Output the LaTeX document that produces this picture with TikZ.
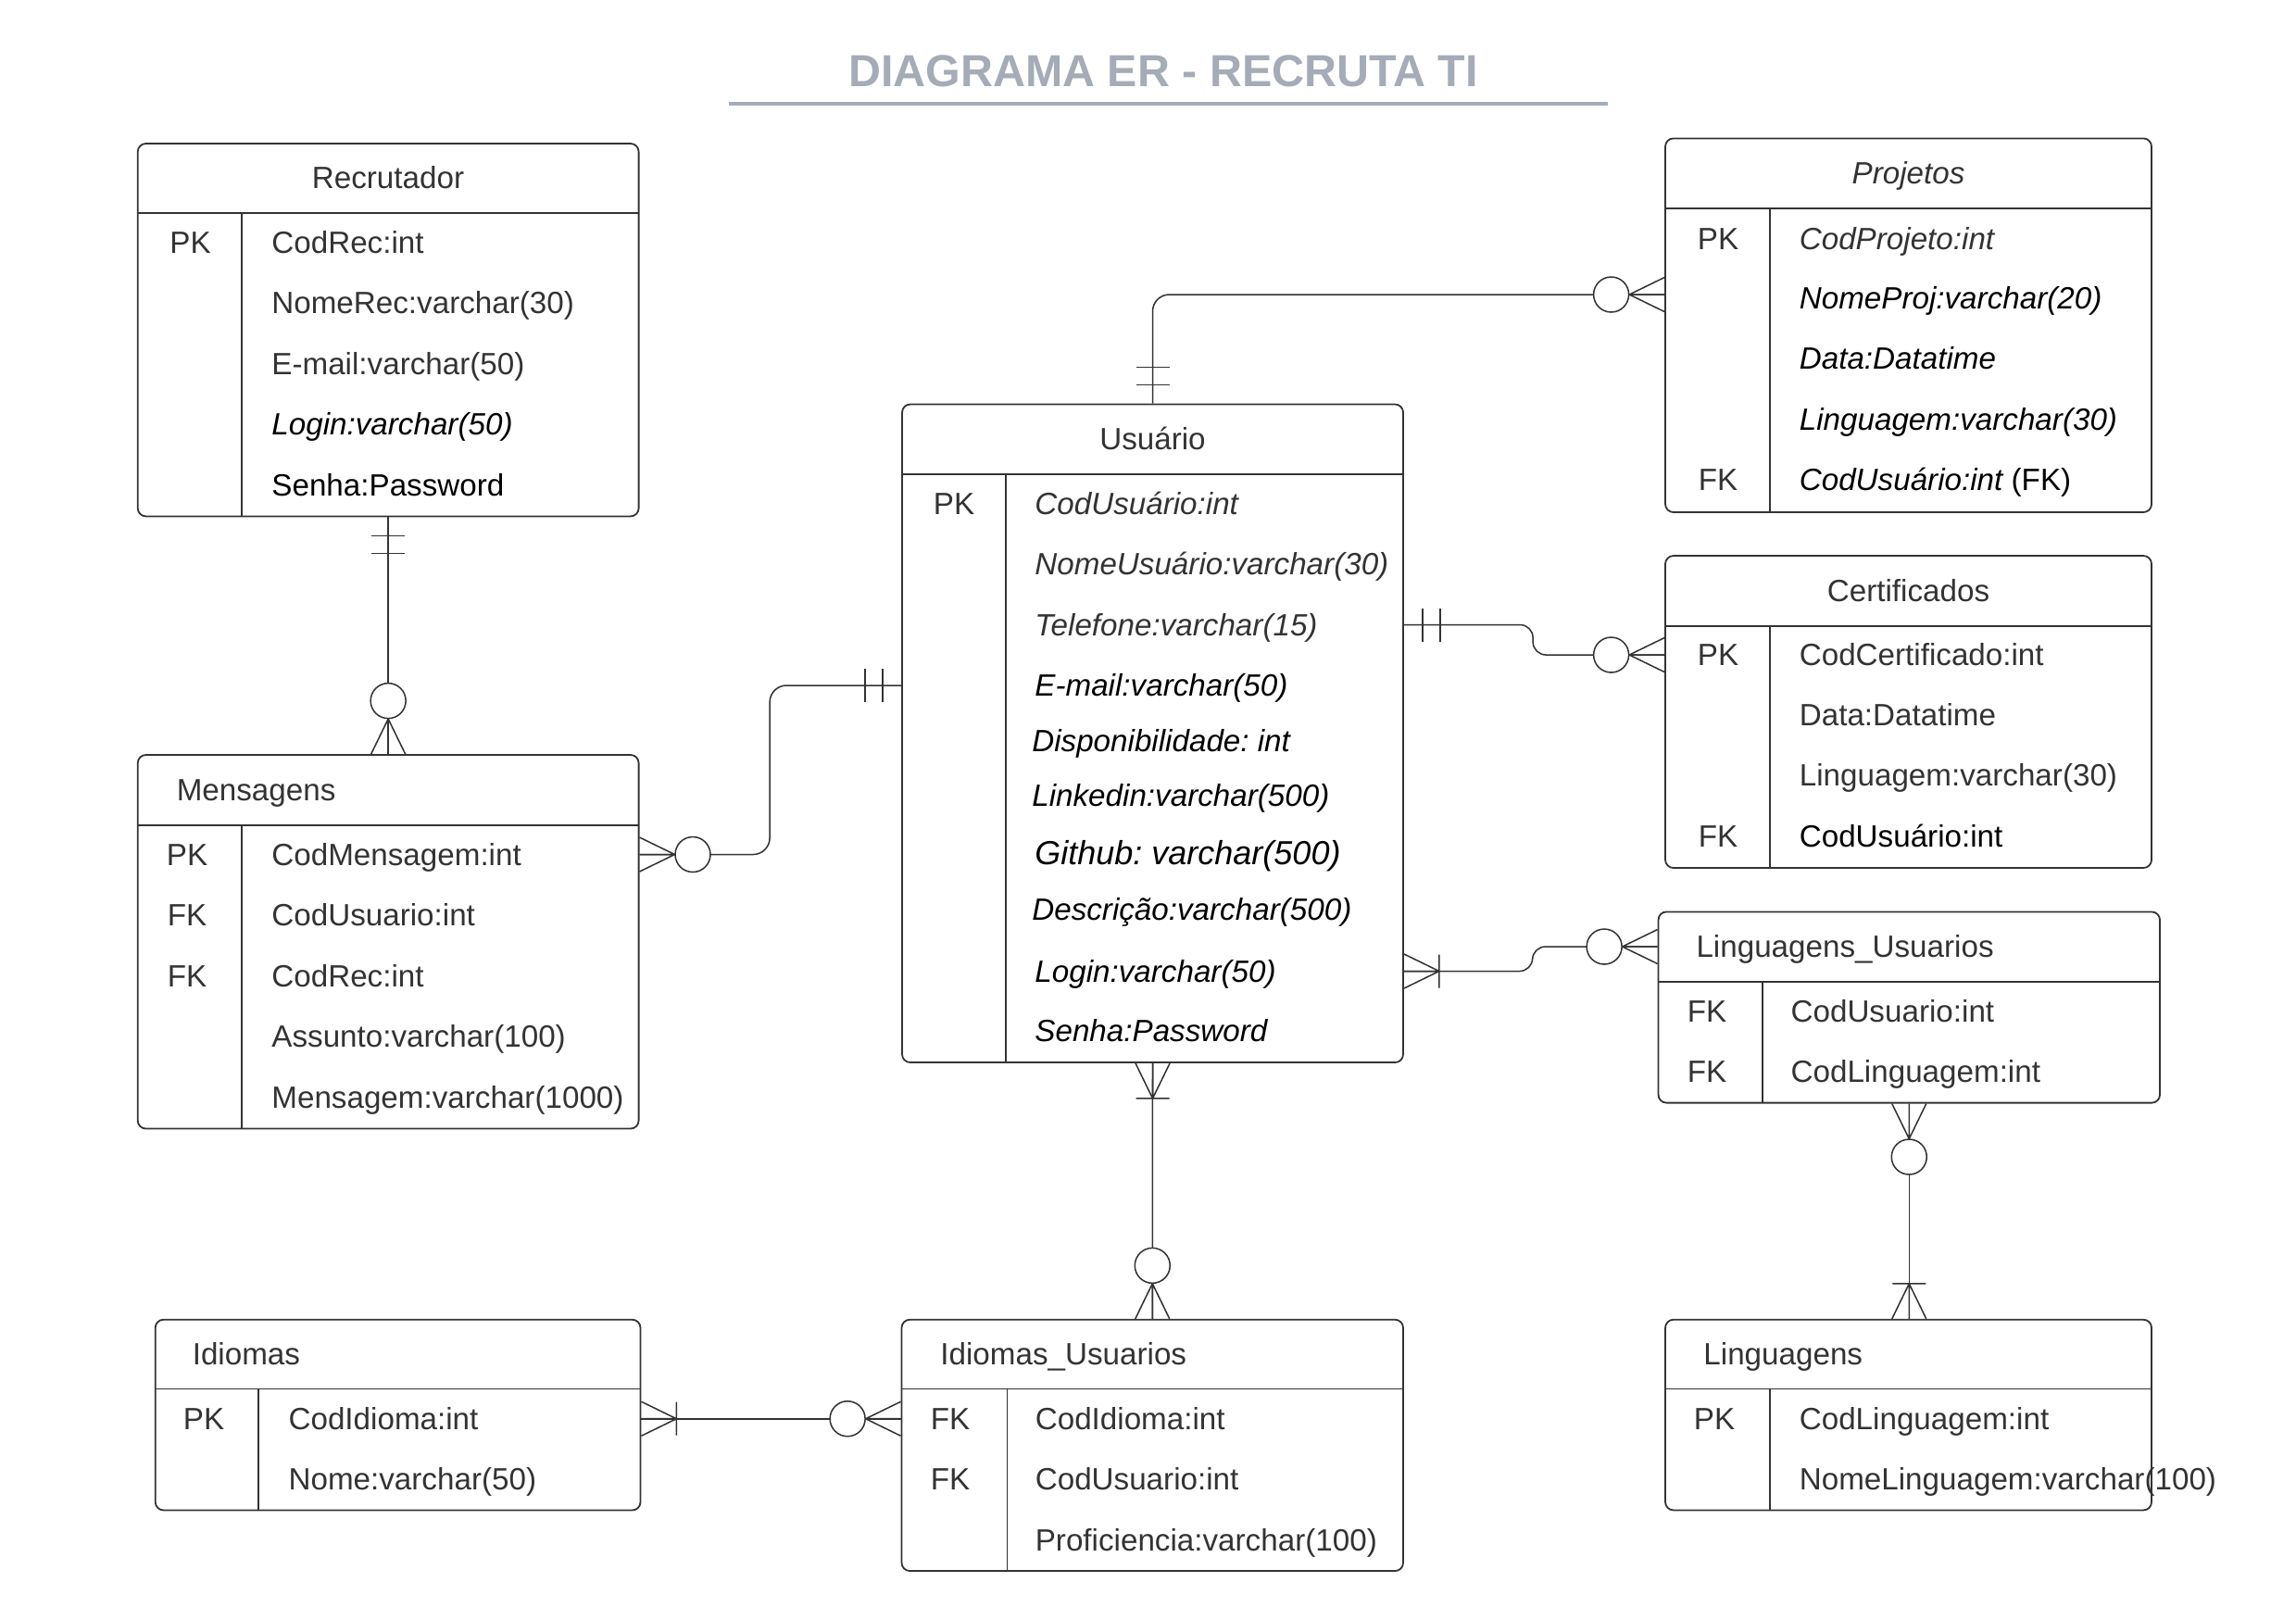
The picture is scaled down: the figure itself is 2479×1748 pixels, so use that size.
\documentclass[tikz,border=0pt]{standalone}
\usepackage{fontspec}
\setmainfont{Liberation Sans}
\usetikzlibrary{fit,calc}
\definecolor{ink}{HTML}{333333}
\definecolor{titlegray}{HTML}{A5ACB7}
\frenchspacing
\newcommand\erent[7]{%
  \node[erbox, fit={(#2,#3) (#4,#5)}] (#1) {};
  \draw[erline] (#2,#6) -- (#4,#6) (#7,#6) -- (#7,#5);
}
\begin{document}
\begin{tikzpicture}[x=0.25pt,y=-0.25pt,
  erbox/.style={draw=ink, line width=0.45pt, rounded corners=2.2pt, inner sep=0pt},
  erline/.style={draw=ink, line width=0.45pt},
  conn/.style={draw=ink, line width=0.38pt},
  cell/.style={inner sep=0pt, text height=5.95pt, text depth=0pt, font=\fontsize{8.3}{10}\selectfont, text=ink},
  attr/.style={cell, anchor=west},
  key/.style={cell},
  hdr/.style={cell},
  blk/.style={text=black},
  it/.style={font=\fontsize{8.3}{10}\selectfont\itshape},
  big/.style={font=\fontsize{9}{11}\selectfont\itshape, text height=6.45pt},
  zm/.pic={\draw[ink, line width=0.38pt] (0,18.5) -- (38,0) -- (0,-18.5) (0,0) -- (38,0);
           \draw[ink, line width=0.38pt, fill=white] (57.5,0) circle[radius=19];},
  om/.pic={\draw[ink, line width=0.38pt] (0,18.5) -- (38,0) -- (0,-18.5) (0,0) -- (38,0) (38,-18) -- (38,18);},
  oo/.pic={\draw[ink, line width=0.38pt] (20,-18) -- (20,18) (39,-18) -- (39,18);}
]
\useasboundingbox (0,0) rectangle (2479,1748);
\fill[white] (0,0) rectangle (2479,1748);

% title
\node[inner sep=0pt, text height=8.66pt, text depth=0pt, font=\fontsize{12.1}{14}\selectfont\bfseries, text=titlegray] (title) at (1256,76) {DIAGRAMA ER - RECRUTA TI};
\draw[titlegray, line width=1pt] (787,112) -- (1736,112);

% Recrutador
\erent{rec}{148.7}{155}{689.6}{557.4}{229.7}{261}
\node[hdr] (rech) at (419,192) {Recrutador};
\node[key] (reck1) at (205.5,262) {PK};
\node[attr] (rec1) at (292.6,262) {CodRec:int};
\node[attr] (rec2) at (292.6,327) {NomeRec:varchar(30)};
\node[attr] (rec3) at (292.6,393) {E-mail:varchar(50)};
\node[attr,blk,it] (rec4) at (292.6,458) {Login:varchar(50)};
\node[attr,blk] (rec5) at (292.6,524) {Senha:Password};

% Mensagens
\erent{msg}{148.7}{815}{689.6}{1218.5}{890.7}{261}
\node[hdr,anchor=west] (msgh) at (190,853) {Mensagens};
\node[key] (msgk1) at (202,922.5) {PK};
\node[key] (msgk2) at (202,988) {FK};
\node[key] (msgk3) at (202,1053.5) {FK};
\node[attr] (msg1) at (292.6,922.5) {CodMensagem:int};
\node[attr] (msg2) at (292.6,988) {CodUsuario:int};
\node[attr] (msg3) at (292.6,1053.5) {CodRec:int};
\node[attr] (msg4) at (292.6,1119) {Assunto:varchar(100)};
\node[attr] (msg5) at (292.6,1184.5) {Mensagem:varchar(1000)};

% Usuario
\erent{usu}{974}{436.5}{1515}{1147}{511.7}{1086}
\node[hdr] (usuh) at (1244.5,474) {Usuário};
\node[key] (usuk1) at (1030,543.5) {PK};
\node[attr,it] (usu1) at (1116.6,543.5) {CodUsuário:int};
\node[attr,it] (usu2) at (1116.6,609) {NomeUsuário:varchar(30)};
\node[attr,it] (usu3) at (1116.6,674.5) {Telefone:varchar(15)};
\node[attr,blk,it] (usu4) at (1116.6,740) {E-mail:varchar(50)};
\node[attr,blk,it] (usu5) at (1113.5,800) {Disponibilidade: int};
\node[attr,blk,it] (usu6) at (1113.5,859) {Linkedin:varchar(500)};
\node[attr,blk,big] (usu7) at (1116.6,920.5) {Github: varchar(500)};
\node[attr,blk,it] (usu8) at (1113.5,981.6) {Descrição:varchar(500)};
\node[attr,blk,it] (usu9) at (1116.6,1048.5) {Login:varchar(50)};
\node[attr,blk,it] (usu10) at (1116.6,1113) {Senha:Password};

% Projetos
\erent{proj}{1798}{149.4}{2323}{553}{225}{1911}
\node[hdr,it] (projh) at (2060.5,187) {Projetos};
\node[key] (projk1) at (1855,257.5) {PK};
\node[key] (projk5) at (1855,518) {FK};
\node[attr,it] (proj1) at (1942,257.5) {CodProjeto:int};
\node[attr,blk,it] (proj2) at (1942,322) {NomeProj:varchar(20)};
\node[attr,blk,it] (proj3) at (1942,387) {Data:Datatime};
\node[attr,blk,it] (proj4) at (1942,452.6) {Linguagem:varchar(30)};
\node[attr,blk] (proj5) at (1942,518) {{\itshape CodUsuário:int} (FK)};

% Certificados
\erent{cert}{1798}{600}{2323}{937}{675.6}{1911}
\node[hdr] (certh) at (2060.5,637.8) {Certificados};
\node[key] (certk1) at (1855,707) {PK};
\node[key] (certk4) at (1855,903) {FK};
\node[attr] (cert1) at (1942,707) {CodCertificado:int};
\node[attr] (cert2) at (1942,772) {Data:Datatime};
\node[attr] (cert3) at (1942,837) {Linguagem:varchar(30)};
\node[attr,blk] (cert4) at (1942,903) {CodUsuário:int};

% Linguagens_Usuarios
\erent{lu}{1790.5}{984.4}{2332}{1190.6}{1059.6}{1902.7}
\node[hdr,anchor=west] (luh) at (1830.7,1022) {Linguagens\_Usuarios};
\node[key] (luk1) at (1843,1091.4) {FK};
\node[key] (luk2) at (1843,1157) {FK};
\node[attr] (lu1) at (1932.8,1091.4) {CodUsuario:int};
\node[attr] (lu2) at (1932.8,1157) {CodLinguagem:int};

% Idiomas
\erent{idi}{167.7}{1424.7}{691.5}{1630.4}{1499.4}{279}
\node[hdr,anchor=west] (idih) at (207,1462) {Idiomas};
\node[key] (idik1) at (220,1531.7) {PK};
\node[attr] (idi1) at (310.8,1531.7) {CodIdioma:int};
\node[attr] (idi2) at (310.8,1597) {Nome:varchar(50)};

% Idiomas_Usuarios
\erent{iu}{973.5}{1424.7}{1515}{1696}{1499.4}{1087.4}
\node[hdr,anchor=west] (iuh) at (1014.6,1462) {Idiomas\_Usuarios};
\node[key] (iuk1) at (1026,1531.7) {FK};
\node[key] (iuk2) at (1026,1597) {FK};
\node[attr] (iu1) at (1117,1531.7) {CodIdioma:int};
\node[attr] (iu2) at (1117,1597) {CodUsuario:int};
\node[attr] (iu3) at (1117,1662.7) {Proficiencia:varchar(100)};

% Linguagens
\erent{ling}{1798}{1424.7}{2323}{1630.4}{1499.4}{1911}
\node[hdr,anchor=west] (lingh) at (1838.6,1462) {Linguagens};
\node[key] (lingk1) at (1851,1531.7) {PK};
\node[attr] (ling1) at (1942,1531.7) {CodLinguagem:int};
\node[attr] (ling2) at (1942,1597) {NomeLinguagem:varchar(100)};

% connectors
\draw[conn] (rec.south) -- (msg.north);
\draw[conn, rounded corners=4.5pt] (usu.north) |- ([yshift=8.3pt]proj.west);
\draw[conn, rounded corners=3.5pt] (usu.east |- usu3) -| ($(cert.west |- cert1)+(-142,0)$) -- (cert.west |- cert1);
\draw[conn, rounded corners=4.5pt] (msg.east |- msg1) -| ($(usu.west |- usu4)+(-142,0)$) -- (usu.west |- usu4);
\draw[conn, rounded corners=3.5pt] (usu.east |- usu9) -| ($(lu.west |- luh)+(-135,0)$) -- (lu.west |- luh);
\draw[conn] (usu.south) -- (iu.north);
\draw[conn] (idi.east |- idi1) -- (iu.west |- iu1);
\draw[conn] (lu.south) -- (lu.south |- ling.north);

% cardinality marks
\pic[rotate=-90] at (rec.south) {oo};
\pic[rotate=90] at (msg.north) {zm};
\pic[rotate=90] at (usu.north) {oo};
\pic[rotate=180] at ([yshift=8.3pt]proj.west) {zm};
\pic at (usu.east |- usu3) {oo};
\pic[rotate=180] at (cert.west |- cert1) {zm};
\pic[rotate=180] at (usu.west |- usu4) {oo};
\pic at (msg.east |- msg1) {zm};
\pic at (usu.east |- usu9) {om};
\pic[rotate=180] at (lu.west |- luh) {zm};
\pic[rotate=-90] at (usu.south) {om};
\pic[rotate=90] at (iu.north) {zm};
\pic at (idi.east |- idi1) {om};
\pic[rotate=180] at (iu.west |- iu1) {zm};
\pic[rotate=-90] at (lu.south) {zm};
\pic[rotate=90] at (lu.south |- ling.north) {om};
\end{tikzpicture}
\end{document}
